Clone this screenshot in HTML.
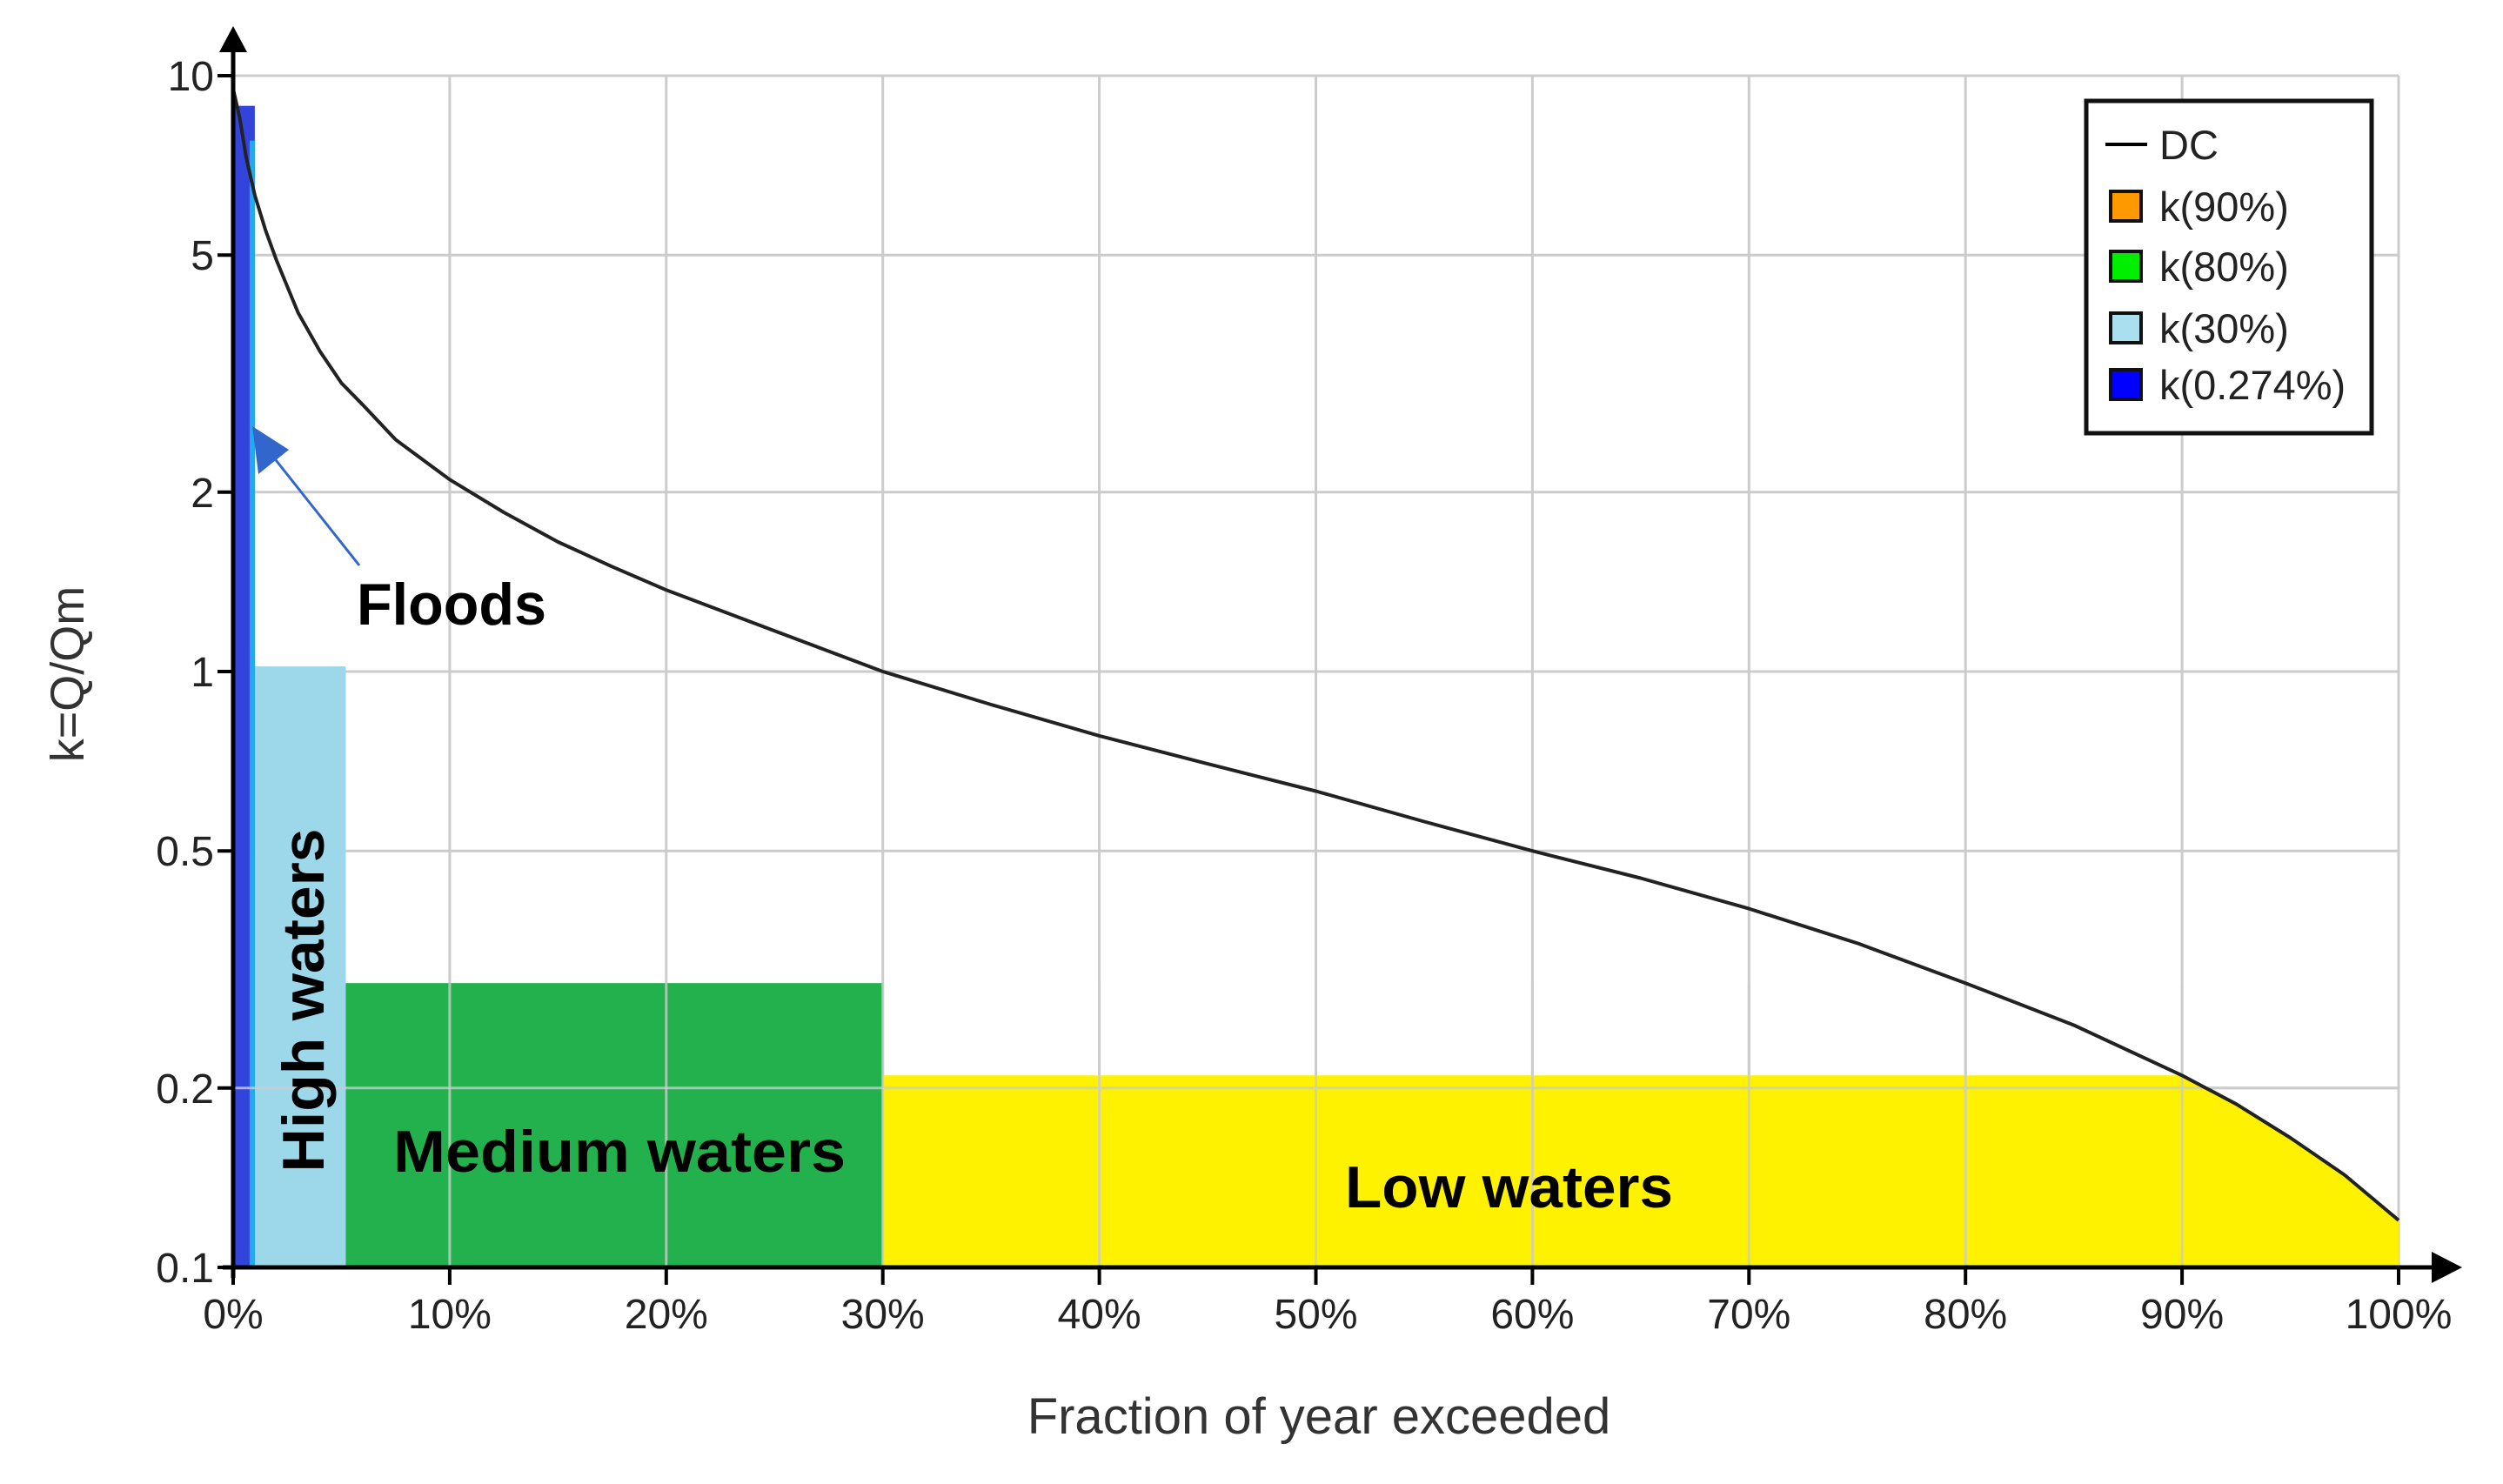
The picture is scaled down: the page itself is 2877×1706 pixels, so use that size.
<!DOCTYPE html>
<html><head><meta charset="utf-8"><style>
html,body{margin:0;padding:0;background:#fff;}
svg{display:block;}
</style></head><body>
<svg id="chart" width="2877" height="1706" viewBox="0 0 2877 1706" xmlns="http://www.w3.org/2000/svg">
<g id="grid"></g>
<g id="regions"></g>
<g id="curve"></g>
<g id="axes"></g>
<g id="annot"></g>
<g id="legend"></g>
</svg>
<script>
const xTicks = [0,10,20,30,40,50,60,70,80,90,100];
const xTickLabels = ["0%","10%","20%","30%","40%","50%","60%","70%","80%","90%","100%"];
const yTicks = [0.1,0.2,0.5,1,2,5,10];
const yTickLabels = ["0.1","0.2","0.5","1","2","5","10"];
const dcX = [0,0.3,0.6,1,1.5,2,3,4,5,6,7.5,10,12.5,15,17.5,20,25,30,35,40,45,50,55,60,65,70,75,80,85,90,92.5,95,97.5,100];
const dcK = [9.5,8.5,7.3,6.3,5.5,4.9,4.0,3.45,3.05,2.8,2.45,2.1,1.85,1.65,1.5,1.37,1.17,1.0,0.88,0.78,0.70,0.63,0.56,0.5,0.45,0.4,0.35,0.3,0.255,0.21,0.188,0.165,0.143,0.12];
const regionNames = ["floods","high-waters","medium-waters","low-waters"];
const regionStart = [0,1,5.2,30];
const regionEnd = [1,5.2,30,100];
const regionTop = [8.9,1.02,0.3,0.21];
const regionColors = ["#3344dd","#9dd8ea","#22b14c","#fff200"];
const legendLabels = ["DC","k(90%)","k(80%)","k(30%)","k(0.274%)"];
const legendColors = ["#000","#ff9900","#00ee00","#aadff0","#0000ff"];

const X0=268, X1=2757, YT=87, YB=1457;
const sx = v => X0 + (X1-X0)*v/100;
const sy = k => YB - (YB-YT)*(Math.log10(k)+1)/2;
const NS="http://www.w3.org/2000/svg";
function mk(tag, attrs, parent, text){
  const e=document.createElementNS(NS,tag);
  for(const a in attrs) e.setAttribute(a,attrs[a]);
  if(text!==undefined) e.textContent=text;
  parent.appendChild(e); return e;
}
const G=id=>document.getElementById(id);
const font='"Liberation Sans", sans-serif';

xTicks.forEach((t,i)=>{
  const l=mk('line',{x1:sx(t),x2:sx(t),y1:YT,y2:YB,stroke:'#cccccc','stroke-width':3},G('grid'));
  
  
});
yTicks.forEach((t,i)=>{
  const l=mk('line',{x1:X0,x2:X1,y1:sy(t),y2:sy(t),stroke:'#cccccc','stroke-width':3},G('grid'));
  
  
});

regionNames.forEach((n,i)=>{
  let e;
  if(n==="low-waters"){
    let pts=[[sx(regionStart[i]),YB],[sx(regionStart[i]),sy(regionTop[i])]];
    dcX.forEach((x,j)=>{ if(x>=regionStart[i]){ const k=Math.min(dcK[j],regionTop[i]); pts.push([sx(x),sy(k)]);} });
    pts.push([sx(regionEnd[i]),YB]);
    e=mk('polygon',{points:pts.map(p=>p.join(',')).join(' '),fill:regionColors[i]},G('regions'));
  } else {
    e=mk('rect',{x:sx(regionStart[i]),y:sy(regionTop[i]),width:sx(regionEnd[i])-sx(regionStart[i]),height:YB-sy(regionTop[i]),fill:regionColors[i]},G('regions'));
  }
  
  
});
const edge=mk('rect',{x:sx(regionEnd[0])-6,y:sy(regionTop[0])+40,width:6,height:YB-sy(regionTop[0])-40,fill:'#22aaee'},G('regions'));


xTicks.slice(1,10).forEach(t=>{
  const l=mk('line',{x1:sx(t),x2:sx(t),y1:sy(0.3),y2:YB,stroke:'#cccccc','stroke-width':3,opacity:0.8},G('regions'));
  
  
});
const hl=mk('line',{x1:X0,x2:X1,y1:sy(0.2),y2:sy(0.2),stroke:'#cccccc','stroke-width':3,opacity:0.8},G('regions'));



const d=dcX.map((x,j)=>(j?'L':'M')+sx(x).toFixed(1)+','+sy(dcK[j]).toFixed(1)).join(' ');
const c=mk('path',{d:d,fill:'none',stroke:'#222','stroke-width':4,'stroke-linejoin':'round'},G('curve'));



const A=G('axes');
const ya=mk('line',{x1:X0,x2:X0,y1:YB+12,y2:55,stroke:'#000','stroke-width':5},A);


const yar=mk('polygon',{points:`${X0-16},60 ${X0+16},60 ${X0},30`,fill:'#000'},A);


const xa=mk('line',{x1:X0-12,x2:2800,y1:YB,y2:YB,stroke:'#000','stroke-width':5},A);


const xar=mk('polygon',{points:`2795,${YB-18} 2795,${YB+18} 2830,${YB}`,fill:'#000'},A);


xTicks.forEach((t,i)=>{
  const tk=mk('line',{x1:sx(t),x2:sx(t),y1:YB,y2:YB+20,stroke:'#000','stroke-width':4},A);
  
  
  const tl=mk('text',{x:sx(t),y:YB+70,'text-anchor':'middle','font-family':font,'font-size':48,fill:'#222'},A,xTickLabels[i]);
  
  
});
yTicks.forEach((t,i)=>{
  const tk=mk('line',{x1:X0-18,x2:X0,y1:sy(t),y2:sy(t),stroke:'#000','stroke-width':4},A);
  
  
  const tl=mk('text',{x:X0-22,y:sy(t)+17,'text-anchor':'end','font-family':font,'font-size':48,fill:'#222'},A,yTickLabels[i]);
  
  
});
const xt=mk('text',{x:1516,y:1648,'text-anchor':'middle','font-family':font,'font-size':58,fill:'#333'},A,'Fraction of year exceeded');


const yt=mk('text',{x:0,y:0,'text-anchor':'middle','font-family':font,'font-size':54,fill:'#333',transform:'translate(96,775) rotate(-90)'},A,'k=Q/Qm');



const N=G('annot');
const bold={'font-family':font,'font-size':68,'font-weight':'bold',fill:'#000',lengthAdjust:'spacingAndGlyphs'};
const fl=mk('text',Object.assign({x:410,y:718,textLength:218},bold),N,'Floods');


const al=mk('line',{x1:413,y1:650,x2:310,y2:520,stroke:'#3366cc','stroke-width':3},N);


const ah=mk('polygon',{points:'290,490 332,517 297,545',fill:'#3366cc'},N);


const hw=mk('text',Object.assign({x:0,y:0,textLength:395,transform:'translate(372,1150) rotate(-90)','text-anchor':'middle'},bold),N,'High waters');


const mw=mk('text',Object.assign({x:452,y:1347,textLength:520},bold),N,'Medium waters');


const lw=mk('text',Object.assign({x:1546,y:1388,textLength:377},bold),N,'Low waters');



const L=G('legend');
const lb=mk('rect',{x:2398,y:116,width:328,height:382,fill:'#fff',stroke:'#111','stroke-width':5},L);


const ly=[166,237,306,377,442];
legendLabels.forEach((s,i)=>{
  if(i===0){
    const m=mk('line',{x1:2420,x2:2468,y1:ly[i],y2:ly[i],stroke:'#000','stroke-width':4},L);
    
    
  } else {
    const m=mk('rect',{x:2426,y:ly[i]-17,width:35,height:34,fill:legendColors[i],stroke:'#111','stroke-width':4},L);
    
    
  }
  const t=mk('text',{x:2482,y:ly[i]+17,'font-family':font,'font-size':47,fill:'#222'},L,s);
  
  
});
</script>
</body></html>
